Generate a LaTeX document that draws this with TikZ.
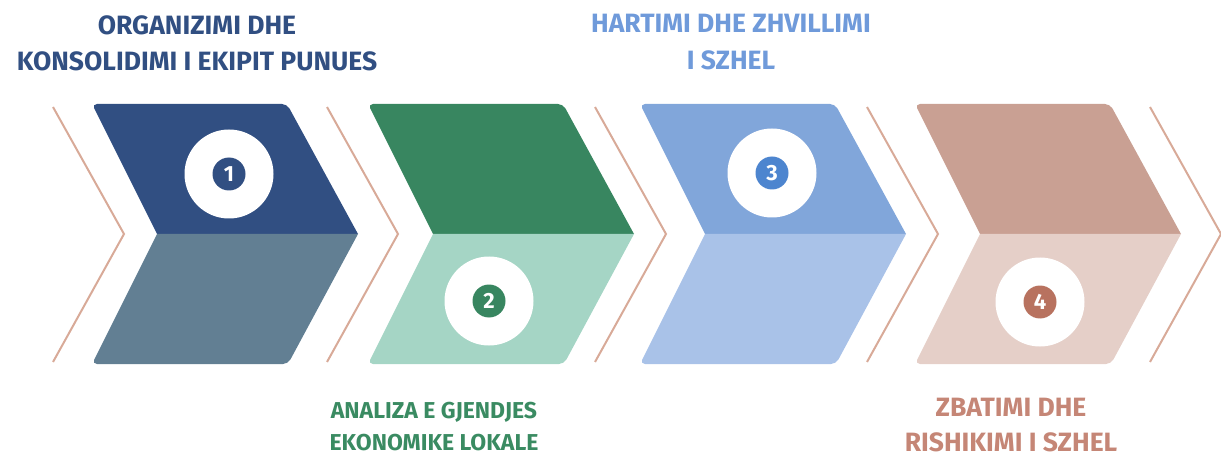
\documentclass[tikz,border=0pt]{standalone}
\usepackage{fontspec}
\setsansfont{Fira Sans}
\usepackage{tikz}
\usetikzlibrary{calc}

\definecolor{navy}{HTML}{314F82}
\definecolor{slate}{HTML}{627F93}
\definecolor{forest}{HTML}{388660}
\definecolor{mint}{HTML}{A5D5C5}
\definecolor{sky}{HTML}{81A6DA}
\definecolor{pale}{HTML}{A9C2E8}
\definecolor{clay}{HTML}{C9A093}
\definecolor{blush}{HTML}{E5CFC8}
\definecolor{guide}{HTML}{D8AA98}
\definecolor{skydisc}{HTML}{4D85CF}
\definecolor{claydisc}{HTML}{B8725F}
\definecolor{skytext}{HTML}{6F9ADA}
\definecolor{claytext}{HTML}{C58676}
\definecolor{greentext}{HTML}{3A8B62}

% one step of the process: x of top left corner, upper colour, lower colour
\def\chevron(#1)(#2)(#3){%
	\fill[#2] (#1+65,234) [rounded corners=5pt] -- (#1,104) -- (#1+195,104) [sharp corners] -- (#1+266,234) -- cycle;
	\fill[#3] (#1+65,234) -- (#1+266,234) [rounded corners=5pt] -- (#1+196,364) -- (#1,364) [sharp corners] -- cycle;}

\begin{document}
\begin{tikzpicture}[x=1pt, y=-1pt,
	ring/.style={circle, fill=white, minimum size=89pt, inner sep=0pt},
	disc/.style={circle, fill=#1, text=white, minimum size=33pt, inner sep=0pt, font=\sffamily\bfseries\fontsize{22}{22}\selectfont},
	title/.style={text=#1, anchor=base, inner sep=0pt, font=\sffamily\bfseries\fontsize{26.5}{30}\selectfont},
	small title/.style={title=#1, font=\sffamily\bfseries\fontsize{23}{30}\selectfont}]
			%%%%% START %%%%%
			\useasboundingbox (0,0) rectangle (1221,457);
			
			\foreach \gx in {53, 327, 595, 867, 1150}
				\draw[guide, line width=2pt] (\gx,107) -- (\gx+71,234) -- (\gx,362);
			
			\chevron(92)(navy)(slate)
			\chevron(368)(forest)(mint)
			\chevron(640)(sky)(pale)
			\chevron(915)(clay)(blush)
			
			\node[ring] (r1) at (229,174) {};
			\node[disc=navy] (n1) at (r1) {1};
			\node[ring] (r2) at (489,301) {};
			\node[disc=forest] (n2) at (r2) {2};
			\node[ring] (r3) at (772,173) {};
			\node[disc=skydisc] (n3) at (r3) {3};
			\node[ring] (r4) at (1040,302) {};
			\node[disc=claydisc] (n4) at (r4) {4};
			
			\node[title=navy] (t1a) at (197,35) {ORGANIZIMI DHE};
			\node[title=navy] (t1b) at (197,71) {KONSOLIDIMI I EKIPIT PUNUES};
			
			\node[small title=greentext] (t2a) at (434,418) {ANALIZA E GJENDJES};
			\node[small title=greentext] (t2b) at (434,450) {EKONOMIKE LOKALE};
			
			\node[title=skytext] (t3a) at (731,33) {HARTIMI DHE ZHVILLIMI};
			\node[title=skytext] (t3b) at (731,70) {I SZHEL};
			
			\node[title=claytext] (t4a) at (1011,416) {ZBATIMI DHE};
			\node[title=claytext] (t4b) at (1011,451) {RISHIKIMI I SZHEL};
			%%%%% END %%%%%
\end{tikzpicture}
\end{document}
